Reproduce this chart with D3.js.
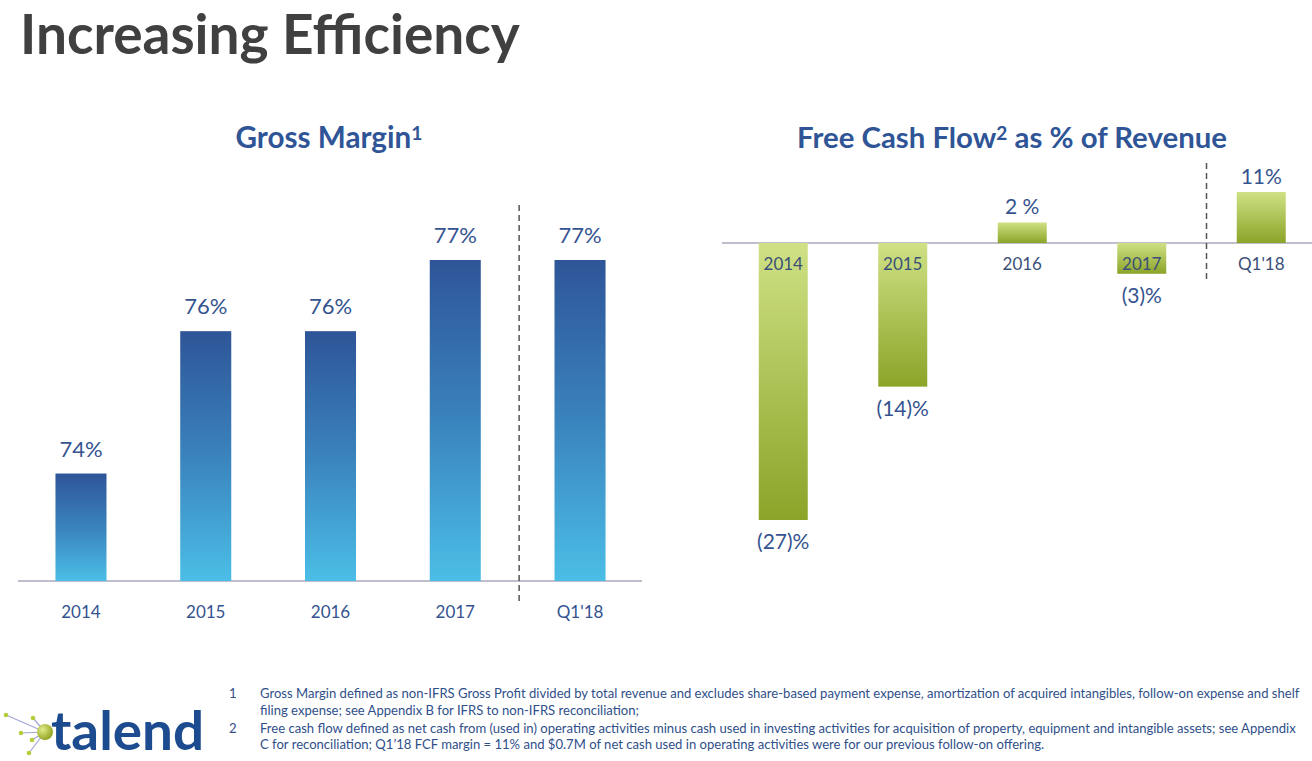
<!DOCTYPE html>
<html>
<head>
<meta charset="utf-8">
<script src="https://cdn.jsdelivr.net/npm/d3@7"></script>
<style>
  html, body { margin: 0; padding: 0; background: #ffffff; }
  svg { display: block; }
  text { font-family: Lato, "Open Sans", sans-serif; }
</style>
</head>
<body>
<svg id="chart" width="1312" height="761"></svg>
<script>
// ---------- data ----------
const gmCategories = ["2014", "2015", "2016", "2017", "Q1'18"];
const gmValues = [74, 76, 76, 77, 77];
const gmLabels = ["74%", "76%", "76%", "77%", "77%"];

const fcfCategories = ["2014", "2015", "2016", "2017", "Q1'18"];
const fcfValues = [-27, -14, 2, -3, 11];
const fcfLabels = ["(27)%", "(14)%", "2 %", "(3)%", "11%"];

const footnoteNumbers = ["1", "2"];
const footnoteLines = [
  "Gross Margin defined as non-IFRS Gross Profit divided by total revenue and excludes share-based payment expense, amortization of acquired intangibles, follow-on expense and shelf",
  "filing expense; see Appendix B for IFRS to non-IFRS reconciliation;",
  "Free cash flow defined as net cash from (used in) operating activities minus cash used in investing activities for acquisition of property, equipment and intangible assets; see Appendix",
  "C for reconciliation; Q1\u201918 FCF margin = 11% and $0.7M of net cash used in operating activities were for our previous follow-on offering."
];

// ---------- setup ----------
const svg = d3.select("#chart");
const BLUE = "#2f5597";
const LABEL = "#34538f";

const defs = svg.append("defs");
const gb = defs.append("linearGradient").attr("id", "gBlue").attr("x1", 0).attr("y1", 0).attr("x2", 0).attr("y2", 1);
gb.append("stop").attr("offset", "0%").attr("stop-color", "#2e5597");
gb.append("stop").attr("offset", "50%").attr("stop-color", "#3a83bd");
gb.append("stop").attr("offset", "100%").attr("stop-color", "#4bbee6");
const gg = defs.append("linearGradient").attr("id", "gGreen").attr("x1", 0).attr("y1", 0).attr("x2", 0).attr("y2", 1);
gg.append("stop").attr("offset", "0%").attr("stop-color", "#cfe185");
gg.append("stop").attr("offset", "100%").attr("stop-color", "#8ba428");

function fitText(sel, targetWidth, startSize) {
  sel.style("font-size", startSize + "px");
  const w = sel.node().getComputedTextLength();
  const s = startSize * targetWidth / w;
  sel.style("font-size", s + "px");
  return s;
}

// ---------- main title ----------
const title = svg.append("text").attr("x", 20).attr("y", 54)
  .attr("fill", "#404040").attr("font-weight", 700)
  .text("Increasing Efficiency");
fitText(title, 500, 52);

// ---------- Gross Margin chart ----------
const xL = d3.scaleBand().domain(gmCategories).range([18.6, 642.4]).paddingInner(0.591).paddingOuter(0.2955);
const yL = d3.scaleLinear().domain([72.49, 77]).range([581, 260]);

const gmTitle = svg.append("text").attr("x", 329).attr("y", 148).attr("text-anchor", "middle")
  .attr("fill", BLUE).attr("font-weight", 700);
gmTitle.append("tspan").text("Gross Margin");
gmTitle.append("tspan").attr("dy", "-0.4em").style("font-size", "0.65em").text("1");
fitText(gmTitle, 187, 26);

svg.append("line").attr("x1", 18).attr("x2", 642).attr("y1", yL(72.49)).attr("y2", yL(72.49))
  .attr("stroke", "#a8a8bc").attr("stroke-width", 1.5);

svg.append("g").selectAll("rect").data(gmValues).join("rect")
  .attr("x", (d, i) => xL(gmCategories[i]))
  .attr("width", xL.bandwidth())
  .attr("y", d => yL(d))
  .attr("height", d => yL(72.49) - yL(d))
  .attr("fill", "url(#gBlue)");

svg.append("g").selectAll("text").data(gmLabels).join("text")
  .attr("x", (d, i) => xL(gmCategories[i]) + xL.bandwidth() / 2)
  .attr("y", (d, i) => yL(gmValues[i]) - 17)
  .attr("text-anchor", "middle").attr("fill", LABEL).style("font-size", "22px")
  .text(d => d);

const axL = svg.append("g").attr("transform", `translate(0,${yL(72.49)})`)
  .call(d3.axisBottom(xL).tickSize(0).tickPadding(25));
axL.select(".domain").remove();
axL.selectAll("text").attr("fill", LABEL).style("font-size", "17px").style("font-family", "Lato, sans-serif");

const dashXL = xL("Q1'18") - (xL.step() - xL.bandwidth()) / 2 + 1.5;
svg.append("line").attr("x1", dashXL).attr("x2", dashXL).attr("y1", 205).attr("y2", 603)
  .attr("stroke", "#555").attr("stroke-width", 1.5).attr("stroke-dasharray", "6,4");

// ---------- Free Cash Flow chart ----------
const xR = d3.scaleBand().domain(fcfCategories).range([723.5, 1321]).paddingInner(0.59).paddingOuter(0.295);
const yR = d3.scaleLinear().domain([-27, 0]).range([520, 243]);       // annual values
const yQ = d3.scaleLinear().domain([0, 11]).range([243, 192]);        // quarter drawn on its own scale
const yFor = (i) => fcfCategories[i] === "Q1'18" ? yQ : yR;

const fcfTitle = svg.append("text").attr("x", 1012).attr("y", 148).attr("text-anchor", "middle")
  .attr("fill", BLUE).attr("font-weight", 700);
fcfTitle.append("tspan").text("Free Cash Flow");
fcfTitle.append("tspan").attr("dy", "-0.4em").style("font-size", "0.65em").text("2");
fcfTitle.append("tspan").attr("dy", "0.26em").text(" as % of Revenue");
fitText(fcfTitle, 430, 26);

svg.append("line").attr("x1", 722).attr("x2", 1312).attr("y1", yR(0)).attr("y2", yR(0))
  .attr("stroke", "#a8a8bc").attr("stroke-width", 1.5);

svg.append("g").selectAll("rect").data(fcfValues).join("rect")
  .attr("x", (d, i) => xR(fcfCategories[i]))
  .attr("width", xR.bandwidth())
  .attr("y", (d, i) => Math.min(yFor(i)(d), yFor(i)(0)))
  .attr("height", (d, i) => Math.abs(yFor(i)(d) - yFor(i)(0)))
  .attr("fill", "url(#gGreen)");

svg.append("g").selectAll("text").data(fcfLabels).join("text")
  .attr("x", (d, i) => xR(fcfCategories[i]) + xR.bandwidth() / 2)
  .attr("y", (d, i) => fcfValues[i] < 0 ? yFor(i)(fcfValues[i]) + 29 : yFor(i)(fcfValues[i]) - 8)
  .attr("text-anchor", "middle").attr("fill", LABEL).style("font-size", "21px")
  .text(d => d);

const axR = svg.append("g").attr("transform", `translate(0,${yR(0)})`)
  .call(d3.axisBottom(xR).tickSize(0).tickPadding(15));
axR.select(".domain").remove();
axR.selectAll("text").attr("fill", "#3b4f78").style("font-size", "17px").style("font-family", "Lato, sans-serif");

const dashXR = xR("Q1'18") - (xR.step() - xR.bandwidth()) / 2 + 5;
svg.append("line").attr("x1", dashXR).attr("x2", dashXR).attr("y1", 163).attr("y2", 279)
  .attr("stroke", "#555").attr("stroke-width", 1.5).attr("stroke-dasharray", "6,4");

// ---------- footnotes ----------
const fnY = [698, 715, 733, 749];
const fnG = svg.append("g").attr("fill", "#2f4f8a");
const first = fnG.append("text").attr("x", 260).attr("y", fnY[0]).text(footnoteLines[0]);
const fnSize = fitText(first, 1040, 11);
footnoteLines.slice(1).forEach((t, i) => {
  fnG.append("text").attr("x", 260).attr("y", fnY[i + 1]).style("font-size", fnSize + "px").text(t);
});
footnoteNumbers.forEach((n, i) => {
  fnG.append("text").attr("x", 229).attr("y", fnY[i * 2]).style("font-size", fnSize + "px").text(n);
});

// ---------- logo ----------
const logo = svg.append("g");
const hub = [45, 732];
const spokes = [[6, 715], [33, 718], [21, 733], [32, 740], [29, 753]];
spokes.forEach(p => {
  logo.append("line").attr("x1", p[0]).attr("y1", p[1]).attr("x2", hub[0]).attr("y2", hub[1])
    .attr("stroke", "#a3a6d6").attr("stroke-width", 1.2);
});
spokes.forEach(p => {
  logo.append("circle").attr("cx", p[0]).attr("cy", p[1]).attr("r", 2.3).attr("fill", "#b8cc3a");
});
const rg = defs.append("radialGradient").attr("id", "gSphere").attr("cx", "35%").attr("cy", "35%").attr("r", "70%");
rg.append("stop").attr("offset", "0%").attr("stop-color", "#e2ec8a");
rg.append("stop").attr("offset", "100%").attr("stop-color", "#8fa01e");
logo.append("circle").attr("cx", hub[0]).attr("cy", hub[1]).attr("r", 8).attr("fill", "url(#gSphere)");
logo.append("text").attr("x", 51).attr("y", 750).attr("fill", "#1d4b8f").attr("font-weight", 700)
  .style("font-size", "54px").attr("textLength", 153).attr("lengthAdjust", "spacingAndGlyphs")
  .text("talend");
</script>
</body>
</html>
